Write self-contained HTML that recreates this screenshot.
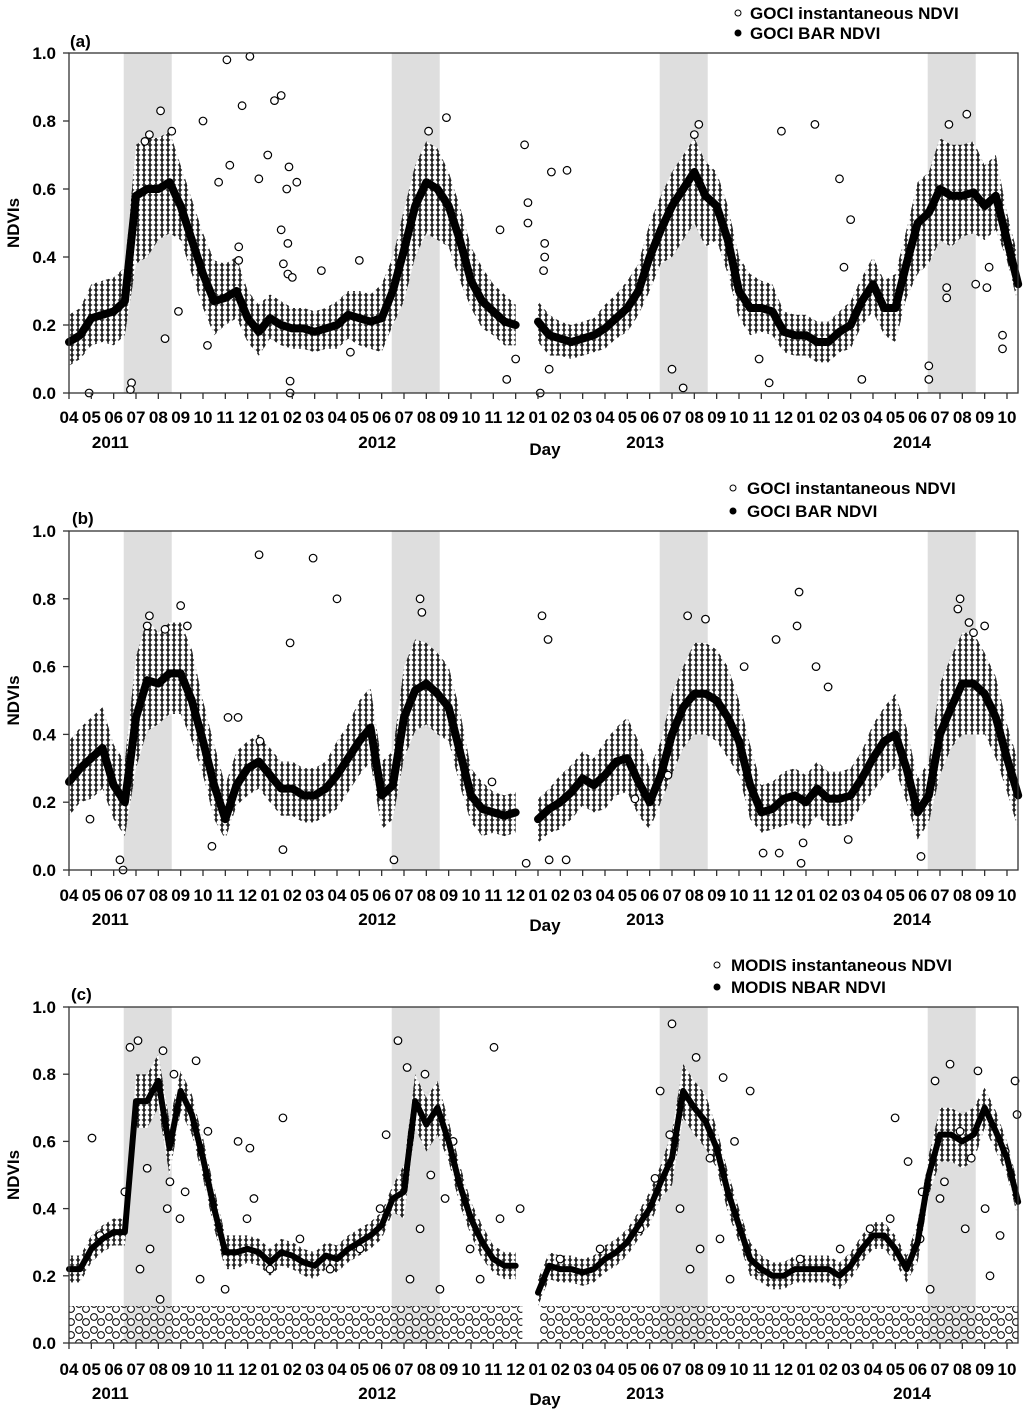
<!DOCTYPE html>
<html><head><meta charset="utf-8"><style>
body{margin:0;background:#fff;}
svg{display:block;font-family:"Liberation Sans",Arial,sans-serif;font-weight:bold;}
</style></head><body>
<svg id="chart" width="1024" height="1410" viewBox="0 0 1024 1410" xmlns="http://www.w3.org/2000/svg">
<defs>
<pattern id="cloud" width="6" height="5" patternUnits="userSpaceOnUse">
<rect width="6" height="5" fill="#fff"/>
<circle cx="0" cy="0" r="3" fill="#fff" stroke="#000" stroke-width="1.1"/>
<circle cx="6" cy="0" r="3" fill="#fff" stroke="#000" stroke-width="1.1"/>
<circle cx="0" cy="5" r="3" fill="#fff" stroke="#000" stroke-width="1.1"/>
<circle cx="6" cy="5" r="3" fill="#fff" stroke="#000" stroke-width="1.1"/>
<circle cx="3" cy="2.5" r="3" fill="#fff" stroke="#000" stroke-width="1.1"/>
</pattern>
<pattern id="sparse" width="15" height="13" patternUnits="userSpaceOnUse">
<circle cx="4" cy="4" r="3.4" fill="#fff" stroke="#000" stroke-width="1"/>
<circle cx="11" cy="9" r="3.4" fill="#fff" stroke="#000" stroke-width="1"/>
</pattern>
</defs>
</svg>
<script>
// ---- data ----
const monthLabels=["04","05","06","07","08","09","10","11","12","01","02","03","04","05","06","07","08","09","10","11","12","01","02","03","04","05","06","07","08","09","10","11","12","01","02","03","04","05","06","07","08","09","10"];
const yTicks=[0,0.2,0.4,0.6,0.8,1.0];
const years=["2011","2012","2013","2014"];
const yearT=[1.85,13.8,25.8,37.75];
const shadeStart=[2.45,14.45,26.45,38.45];
const shadeEnd=[4.6,16.6,28.6,40.6];
// BAR series on half-month grid t = 0,0.5,...,42.5 (months since Apr 2011)
const barA=[0.15,0.17,0.22,0.23,0.24,0.27,0.58,0.60,0.60,0.62,0.55,0.45,0.35,0.27,0.28,0.30,0.22,0.18,0.22,0.20,0.19,0.19,0.18,0.19,0.20,0.23,0.22,0.21,0.22,0.30,0.42,0.55,0.62,0.60,0.55,0.45,0.33,0.27,0.24,0.21,0.20,null,0.21,0.17,0.16,0.15,0.16,0.17,0.19,0.22,0.25,0.30,0.40,0.48,0.55,0.60,0.65,0.58,0.55,0.45,0.30,0.25,0.25,0.24,0.18,0.17,0.17,0.15,0.15,0.18,0.20,0.27,0.32,0.25,0.25,0.38,0.50,0.53,0.60,0.58,0.58,0.59,0.55,0.58,0.45,0.32];
const barB=[0.26,0.30,0.33,0.36,0.25,0.20,0.45,0.56,0.55,0.58,0.58,0.50,0.38,0.25,0.15,0.25,0.30,0.32,0.28,0.24,0.24,0.22,0.22,0.24,0.28,0.33,0.38,0.42,0.22,0.25,0.45,0.53,0.55,0.52,0.48,0.35,0.22,0.18,0.17,0.16,0.17,null,0.15,0.18,0.20,0.23,0.27,0.25,0.28,0.32,0.33,0.26,0.20,0.28,0.40,0.48,0.52,0.52,0.50,0.45,0.38,0.25,0.17,0.18,0.21,0.22,0.20,0.24,0.21,0.21,0.22,0.27,0.33,0.38,0.40,0.30,0.17,0.22,0.40,0.48,0.55,0.55,0.52,0.45,0.33,0.22];
const barC=[0.22,0.22,0.28,0.31,0.33,0.33,0.72,0.72,0.78,0.58,0.75,0.68,0.55,0.40,0.27,0.27,0.28,0.27,0.24,0.27,0.26,0.24,0.23,0.26,0.25,0.28,0.30,0.32,0.35,0.43,0.45,0.72,0.65,0.70,0.60,0.47,0.37,0.30,0.25,0.23,0.23,null,0.15,0.23,0.22,0.22,0.21,0.22,0.25,0.27,0.30,0.35,0.40,0.48,0.55,0.75,0.70,0.66,0.58,0.45,0.35,0.25,0.22,0.20,0.20,0.22,0.22,0.22,0.22,0.20,0.23,0.28,0.32,0.32,0.28,0.22,0.30,0.50,0.62,0.62,0.60,0.62,0.70,0.63,0.55,0.42];
// cloud spread above / below BAR, per month
const upA=[0.08,0.1,0.1,0.15,0.15,0.12,0.12,0.1,0.08,0.07,0.06,0.06,0.07,0.08,0.1,0.12,0.12,0.1,0.1,0.08,0.06,0.06,0.05,0.05,0.07,0.08,0.1,0.1,0.1,0.1,0.1,0.08,0.06,0.06,0.06,0.07,0.08,0.1,0.12,0.15,0.15,0.12,0.08];
const downA=[0.07,0.08,0.1,0.2,0.15,0.1,0.1,0.08,0.07,0.06,0.06,0.06,0.07,0.08,0.1,0.15,0.15,0.12,0.08,0.07,0.06,0.06,0.05,0.05,0.06,0.07,0.1,0.15,0.15,0.1,0.08,0.07,0.06,0.06,0.06,0.07,0.08,0.1,0.15,0.15,0.12,0.1,0.06];
const upB=[0.12,0.12,0.12,0.18,0.15,0.15,0.12,0.1,0.08,0.08,0.08,0.08,0.1,0.12,0.1,0.15,0.12,0.12,0.08,0.06,0.06,0.06,0.08,0.08,0.1,0.12,0.1,0.12,0.15,0.15,0.12,0.08,0.08,0.08,0.08,0.08,0.1,0.12,0.1,0.15,0.15,0.12,0.1];
const downB=[0.1,0.12,0.1,0.15,0.12,0.12,0.1,0.06,0.08,0.08,0.08,0.08,0.1,0.1,0.1,0.12,0.12,0.1,0.08,0.06,0.06,0.07,0.08,0.08,0.1,0.1,0.08,0.12,0.12,0.12,0.1,0.06,0.08,0.08,0.08,0.08,0.1,0.1,0.08,0.12,0.15,0.12,0.1];
const upC=[0.04,0.04,0.04,0.08,0.08,0.06,0.06,0.05,0.04,0.04,0.04,0.04,0.04,0.04,0.04,0.08,0.08,0.06,0.05,0.04,0.04,0.04,0.04,0.04,0.04,0.04,0.05,0.08,0.08,0.06,0.05,0.04,0.04,0.04,0.04,0.04,0.04,0.04,0.06,0.08,0.08,0.06,0.05];
const downC=upC;
const lowBandStart=[0,21.1];
const lowBandEnd=[20.3,42.5];
const lowBandTop=[0.11,0.11];
// scattered instantaneous outliers [t, value]
const outA=[[7.07,0.98],[8.1,0.99],[9.2,0.86],[9.5,0.875],[7.75,0.845],[6.0,0.80],[4.1,0.83],[16.9,0.81],[20.4,0.73],[8.9,0.70],[9.85,0.665],[7.2,0.67],[9.75,0.6],[10.2,0.62],[6.7,0.62],[8.5,0.63],[9.5,0.48],[9.8,0.44],[7.6,0.43],[7.6,0.39],[9.6,0.38],[9.8,0.35],[10.0,0.34],[11.3,0.36],[13.0,0.39],[19.3,0.48],[20.55,0.56],[20.55,0.50],[9.9,0.035],[0.9,0.0],[9.9,0.0],[2.8,0.03],[2.75,0.01],[19.6,0.04],[20.0,0.1],[4.3,0.16],[4.9,0.24],[12.6,0.12],[6.2,0.14],[21.6,0.65],[22.3,0.655],[31.9,0.77],[33.4,0.79],[34.5,0.63],[35.0,0.51],[34.7,0.37],[21.3,0.44],[21.3,0.40],[21.25,0.36],[21.5,0.07],[21.1,0.0],[27.5,0.015],[31.35,0.03],[35.5,0.04],[38.5,0.04],[38.5,0.08],[41.8,0.13],[41.8,0.17],[30.9,0.1],[27.0,0.07],[39.3,0.28],[39.3,0.31],[41.1,0.31],[40.6,0.32],[41.2,0.37],[3.6,0.76],[3.4,0.74],[4.6,0.77],[16.1,0.77],[28.2,0.79],[28.0,0.76],[40.2,0.82],[39.4,0.79]];
const outB=[[8.51,0.93],[10.93,0.92],[12.0,0.80],[15.72,0.80],[21.18,0.75],[21.45,0.68],[32.69,0.82],[32.6,0.72],[39.9,0.80],[39.8,0.77],[31.66,0.68],[30.23,0.6],[33.45,0.6],[33.99,0.54],[9.9,0.67],[7.12,0.45],[5.64,0.48],[2.28,0.03],[2.42,0.0],[21.5,0.03],[20.47,0.02],[22.26,0.03],[31.08,0.05],[31.8,0.05],[32.78,0.02],[32.87,0.08],[34.89,0.09],[38.15,0.04],[14.55,0.03],[9.58,0.06],[6.4,0.07],[0.94,0.15],[7.57,0.45],[8.55,0.38],[18.94,0.26],[26.82,0.28],[25.34,0.21],[3.6,0.75],[3.5,0.72],[5.0,0.78],[4.3,0.71],[5.3,0.72],[15.8,0.76],[27.7,0.75],[28.5,0.74],[40.3,0.73],[40.5,0.70],[41.0,0.72]];
const outC=[[3.09,0.90],[2.73,0.88],[4.21,0.87],[4.7,0.80],[5.69,0.84],[1.03,0.61],[6.22,0.63],[7.57,0.60],[8.28,0.43],[9.58,0.67],[14.73,0.90],[19.03,0.88],[15.14,0.82],[15.94,0.80],[27.0,0.95],[26.47,0.75],[28.08,0.85],[29.29,0.79],[30.5,0.75],[36.99,0.67],[37.57,0.54],[38.78,0.78],[39.45,0.83],[40.7,0.81],[42.36,0.78],[42.45,0.68],[39.9,0.63],[1.39,0.32],[4.52,0.48],[3.63,0.28],[4.08,0.13],[4.97,0.37],[6.99,0.16],[7.97,0.37],[10.34,0.31],[11.69,0.22],[13.03,0.28],[13.93,0.4],[15.72,0.34],[16.84,0.43],[17.96,0.28],[19.3,0.37],[20.2,0.4],[21.99,0.25],[23.78,0.28],[25.57,0.34],[26.24,0.49],[27.36,0.4],[28.26,0.28],[29.15,0.31],[30.94,0.22],[32.74,0.25],[34.53,0.28],[35.87,0.34],[36.77,0.37],[38.11,0.31],[39.0,0.43],[40.13,0.34],[41.02,0.4],[41.92,0.57],[41.69,0.32],[3.18,0.22],[5.87,0.19],[9.0,0.22],[15.27,0.19],[16.61,0.16],[18.41,0.19],[27.81,0.22],[29.6,0.19],[38.56,0.16],[41.24,0.2],[3.5,0.52],[4.4,0.4],[5.2,0.45],[16.2,0.5],[17.2,0.6],[28.7,0.55],[29.8,0.6],[39.2,0.48],[40.4,0.55],[2.5,0.45],[14.2,0.62],[26.9,0.62],[8.1,0.58],[38.2,0.45]];

// ---- layout ----
const NS="http://www.w3.org/2000/svg";
const svg=document.getElementById('chart');
const X0=69,X1=1018,PX=22.333;
function xs(t){return X0+t*PX;}
function mk(tag,attrs,parent){const e=document.createElementNS(NS,tag);for(const k in attrs)e.setAttribute(k,attrs[k]);(parent||svg).appendChild(e);return e;}

const panels=[
 {id:'a',top:53,bot:393,bar:barA,up:upA,down:downA,out:outA,low:false,label:'(a)',lx:70,ly:47,leg1:'GOCI instantaneous NDVI',leg2:'GOCI BAR NDVI',cx:738,tx:750,l1:13,l2:33,xl:417,yl:442,dl:455},
 {id:'b',top:531,bot:870,bar:barB,up:upB,down:downB,out:outB,low:false,label:'(b)',lx:72,ly:524,leg1:'GOCI instantaneous NDVI',leg2:'GOCI BAR NDVI',cx:733,tx:747,l1:488,l2:511,xl:895,yl:919,dl:931},
 {id:'c',top:1007,bot:1343,bar:barC,up:upC,down:downC,out:outC,low:true,label:'(c)',lx:71,ly:1000,leg1:'MODIS instantaneous NDVI',leg2:'MODIS NBAR NDVI',cx:717,tx:731,l1:965,l2:987,xl:1369,yl:1393,dl:1405}
];

panels.forEach(p=>{
  const ys=v=>p.bot-v*(p.bot-p.top);
  const g=mk('g',{});
  
  
  shadeStart.forEach((s,i)=>{
    const r=mk('rect',{x:xs(s),y:p.top,width:xs(shadeEnd[i])-xs(s),height:p.bot-p.top,fill:'#dedede'},g);
    
    
  });
  if(p.low){
    lowBandStart.forEach((s,i)=>{
      const r=mk('rect',{x:xs(s),y:ys(lowBandTop[i]),width:xs(lowBandEnd[i])-xs(s),height:ys(0)-ys(lowBandTop[i]),fill:'url(#sparse)'},g);
      
      
    });
  }
  let segs=[],cur=[];
  p.bar.forEach((v,i)=>{const t=i*0.5; if(v===null){if(cur.length)segs.push(cur);cur=[];}else cur.push([t,v]);});
  if(cur.length)segs.push(cur);
  segs.forEach(seg=>{
    const upper=seg.map(([t,v])=>{const k=Math.min(42,Math.floor(t));return xs(t)+','+ys(Math.min(1,v+p.up[k]));});
    const lower=seg.slice().reverse().map(([t,v])=>{const k=Math.min(42,Math.floor(t));return xs(t)+','+ys(Math.max(0,v-p.down[k]));});
    const poly=mk('polygon',{points:upper.concat(lower).join(' '),fill:'url(#cloud)'},g);
    
    
  });
  p.out.forEach(([t,v])=>{
    const c=mk('circle',{cx:xs(t),cy:ys(v),r:3.8,fill:'#fff',stroke:'#000','stroke-width':1.2},g);
    
    
  });
  segs.forEach(seg=>{
    const pl=mk('polyline',{points:seg.map(([t,v])=>xs(t)+','+ys(v)).join(' '),fill:'none',stroke:'#000','stroke-width':p.low?6:8,'stroke-linejoin':'round','stroke-linecap':'round'},g);
    
    
  });
  const fr=mk('rect',{x:X0,y:p.top,width:X1-X0,height:p.bot-p.top,fill:'none',stroke:'#333','stroke-width':1.3},g);
  
  
  yTicks.forEach(v=>{
    mk('line',{x1:X0-6,x2:X0,y1:ys(v),y2:ys(v),stroke:'#333','stroke-width':1.3},g);
    const tx=mk('text',{x:56,y:ys(v)+6,'font-size':17,'text-anchor':'end'},g);
    tx.textContent=v.toFixed(1);
    
    
  });
  monthLabels.forEach((m,i)=>{
    mk('line',{x1:xs(i),x2:xs(i),y1:p.bot,y2:p.bot+6,stroke:'#333','stroke-width':1.3},g);
    const tx=mk('text',{x:xs(i),y:p.xl+6,'font-size':17,'text-anchor':'middle'},g);
    tx.textContent=m;
    
    
  });
  years.forEach((y,i)=>{
    const tx=mk('text',{x:xs(yearT[i]),y:p.yl+6,'font-size':17,'text-anchor':'middle'},g);
    tx.textContent=y;
    
    
  });
  const day=mk('text',{x:545,y:p.dl,'font-size':17,'text-anchor':'middle'},g);
  day.textContent='Day';
  
  
  const yt=mk('text',{x:0,y:0,'font-size':17,'text-anchor':'middle',transform:'translate(19,'+((p.top+p.bot)/2)+') rotate(-90)'},g);
  yt.textContent='NDVIs';
  
  
  const pl=mk('text',{x:p.lx,y:p.ly,'font-size':17},g);
  pl.textContent=p.label;
  
  
  const lg=mk('g',{},g);
  
  
  mk('circle',{cx:p.cx,cy:p.l1,r:3,fill:'#fff',stroke:'#000','stroke-width':1},lg);
  mk('circle',{cx:p.cx,cy:p.l2,r:3.5,fill:'#000'},lg);
  const t1=mk('text',{x:p.tx,y:p.l1+6,'font-size':17},lg);
  t1.textContent=p.leg1;
  
  
  const t2=mk('text',{x:p.tx,y:p.l2+6,'font-size':17},lg);
  t2.textContent=p.leg2;
  
  
});
</script>
</body></html>
